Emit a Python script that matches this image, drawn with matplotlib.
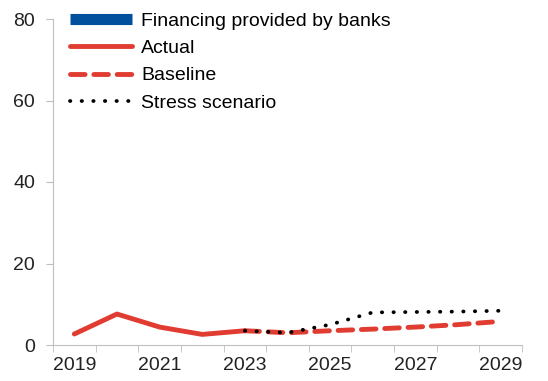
import matplotlib.pyplot as plt
import numpy as np

plt.rcParams['font.family'] = ['Liberation Sans', 'DejaVu Sans']

# Datos
years = ['2019', '2020', '2021', '2022', '2023', '2024', '2025', '2026', '2027', '2028', '2029']
actual = [2.7, 7.6, 4.4, 2.6, 3.5, None, None, None, None, None, None]
baseline = [None, None, None, None, 3.5, 3.0, 3.5, 3.9, 4.4, 5.0, 5.8]
stress = [None, None, None, None, 3.5, 3.0, 5.0, 8.0, 8.1, 8.2, 8.4]
banks = []  # solo aparece en la leyenda

x = np.arange(len(years))
def arr(v):
    return np.array([np.nan if a is None else a for a in v], dtype=float)

fig = plt.figure(figsize=(5.48, 3.81), dpi=100)
ax = fig.add_axes([53 / 548, 36 / 381, 469 / 548, 326 / 381])

ax.plot(banks, banks, color='#00509E', lw=8, solid_capstyle='butt', label='Financing provided by banks')
ax.plot(x, arr(actual), color='#E03C31', lw=3.5, solid_capstyle='round', label='Actual')
ax.plot(x, arr(baseline), color='#E03C31', lw=3.5, ls=(0, (3, 1.8)), dash_capstyle='round', label='Baseline')
ax.plot(x, arr(stress), color='black', lw=2.7, ls=(0, (0.1, 3.0)), dash_capstyle='round', label='Stress scenario')

ax.set_xlim(-0.5, len(years) - 0.5)
ax.set_ylim(0, 80)
ax.set_yticks([0, 20, 40, 60, 80])
ax.set_xticks(x[::2])
ax.set_xticklabels(years[::2])
ax.set_xticks(np.arange(-0.5, len(years)), minor=True)
ax.tick_params(axis='x', which='major', length=0, pad=9, labelsize=14, colors='#222222')
ax.tick_params(axis='x', which='minor', length=5, color='#BFBFBF')
ax.tick_params(axis='y', length=5, color='#BFBFBF', labelsize=14, labelcolor='#222222', pad=8)
ax.tick_params(axis='x', labelcolor='#222222')

for s in ['top', 'right']:
    ax.spines[s].set_visible(False)
for s in ['left', 'bottom']:
    ax.spines[s].set_color('#BFBFBF')

ax.legend(loc='upper left', bbox_to_anchor=(0.02, 1.045), frameon=False, fontsize=14,
          handlelength=3.2, handletextpad=0.45, labelspacing=0.5, borderaxespad=0)

fig.savefig('out.png', dpi=100)
